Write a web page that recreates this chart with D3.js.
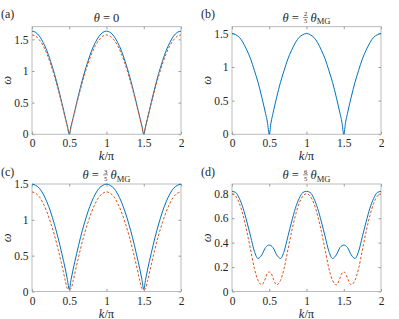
<!DOCTYPE html>
<html>
<head>
<meta charset="utf-8">
<script src="https://cdn.jsdelivr.net/npm/d3@7"></script>
<style>
body{margin:0;background:#fff}
svg{font-family:"Liberation Serif","DejaVu Serif",serif}
svg text{fill:#262626}
</style>
</head>
<body>
<svg width="399" height="319"></svg>
<script>
// k/pi sample points (extra points close to the dips)
var kGrid = [0,0.05,0.1,0.15,0.2,0.25,0.3,0.35,0.4,0.45,0.475,0.5,0.525,0.55,0.6,0.65,0.7,0.75,0.8,0.85,0.9,0.95,1,
             1.05,1.1,1.15,1.2,1.25,1.3,1.35,1.4,1.45,1.475,1.5,1.525,1.55,1.6,1.65,1.7,1.75,1.8,1.85,1.9,1.95,2];

var aBlue = [1.63,1.61,1.55,1.45,1.32,1.15,0.96,0.74,0.50,0.25,0.13,0,0.13,0.25,0.50,0.74,0.96,1.15,1.32,1.45,1.55,1.61,1.63,
             1.61,1.55,1.45,1.32,1.15,0.96,0.74,0.50,0.25,0.13,0,0.13,0.25,0.50,0.74,0.96,1.15,1.32,1.45,1.55,1.61,1.63];
var aOrange = [1.57,1.55,1.49,1.40,1.27,1.11,0.92,0.71,0.48,0.24,0.12,0.01,0.12,0.24,0.48,0.71,0.92,1.11,1.27,1.40,1.49,1.55,1.57,
               1.55,1.49,1.40,1.27,1.11,0.92,0.71,0.48,0.24,0.12,0.01,0.12,0.24,0.48,0.71,0.92,1.11,1.27,1.40,1.49,1.55,1.57];
var bBlue = [1.50,1.48,1.44,1.36,1.25,1.12,0.95,0.77,0.55,0.31,0.18,0,0.18,0.31,0.55,0.77,0.95,1.12,1.25,1.36,1.44,1.48,1.50,
             1.48,1.44,1.36,1.25,1.12,0.95,0.77,0.55,0.31,0.18,0,0.18,0.31,0.55,0.77,0.95,1.12,1.25,1.36,1.44,1.48,1.50];
var cBlue = [1.50,1.48,1.44,1.36,1.25,1.11,0.94,0.75,0.53,0.30,0.17,0.03,0.17,0.30,0.53,0.75,0.94,1.11,1.25,1.36,1.44,1.48,1.50,
             1.48,1.44,1.36,1.25,1.11,0.94,0.75,0.53,0.30,0.17,0.03,0.17,0.30,0.53,0.75,0.94,1.11,1.25,1.36,1.44,1.48,1.50];
var cOrange = [1.39,1.37,1.32,1.23,1.11,0.96,0.79,0.59,0.37,0.14,0.04,0.03,0.04,0.14,0.37,0.59,0.79,0.96,1.11,1.23,1.32,1.37,1.39,
               1.37,1.32,1.23,1.11,0.96,0.79,0.59,0.37,0.14,0.04,0.03,0.04,0.14,0.37,0.59,0.79,0.96,1.11,1.23,1.32,1.37,1.39];
var dBlue = [0.82,0.81,0.76,0.68,0.57,0.45,0.33,0.27,0.30,0.36,0.375,0.38,0.375,0.36,0.30,0.27,0.33,0.45,0.57,0.68,0.76,0.81,0.82,
             0.81,0.76,0.68,0.57,0.45,0.33,0.27,0.30,0.36,0.375,0.38,0.375,0.36,0.30,0.27,0.33,0.45,0.57,0.68,0.76,0.81,0.82];
var dOrange = [0.80,0.78,0.72,0.62,0.49,0.34,0.19,0.09,0.055,0.11,0.15,0.16,0.15,0.11,0.055,0.09,0.19,0.34,0.49,0.62,0.72,0.78,0.80,
               0.78,0.72,0.62,0.49,0.34,0.19,0.09,0.055,0.11,0.15,0.16,0.15,0.11,0.055,0.09,0.19,0.34,0.49,0.62,0.72,0.78,0.80];

var xTicks = [0,0.5,1,1.5,2];
var yTicks = [0,0.5,1,1.5];
var yTicksD = [0,0.2,0.4,0.6,0.8];

var blue = "#0072BD", orange = "#D95319";
var serif = "Liberation Serif";

var panels = [
  {label:"(a)", frac:null,  x0:32,  y0:26.7, yMax:1.7,  ticks:yTicks,  series:[aBlue, aOrange]},
  {label:"(b)", frac:["2","5"], x0:232, y0:26.7, yMax:1.6, ticks:yTicks, series:[bBlue]},
  {label:"(c)", frac:["3","5"], x0:32,  y0:184, yMax:1.5, ticks:yTicks, series:[cBlue, cOrange]},
  {label:"(d)", frac:["6","5"], x0:232, y0:184, yMax:0.88, ticks:yTicksD, series:[dBlue, dOrange]}
];

var svg = d3.select("svg");
var w = 149, h = 107.5;

function title(g, cx, base, frac) {
  var t = g.append("g");
  var t1 = t.append("text").attr("x", 0).attr("y", base).attr("font-size", 12.5);
  t1.append("tspan").attr("font-style", "italic").text("θ");
  t1.append("tspan").text(frac ? "\u00a0=\u00a0" : "\u00a0=\u00a00");
  var x = t1.node().getComputedTextLength();
  if (frac) {
    var fw = 5;
    x += 1;
    t.append("text").attr("x", x + fw/2).attr("y", base - 5.5).attr("font-size", 6.5)
      .attr("text-anchor", "middle").text(frac[0]);
    t.append("text").attr("x", x + fw/2).attr("y", base + 1.5).attr("font-size", 6.5)
      .attr("text-anchor", "middle").text(frac[1]);
    t.append("line").attr("x1", x).attr("x2", x + fw).attr("y1", base - 4.2).attr("y2", base - 4.2)
      .attr("stroke", "#262626").attr("stroke-width", 0.5);
    x += fw + 2.5;
    var t2 = t.append("text").attr("x", x).attr("y", base).attr("font-size", 12.5);
    t2.append("tspan").attr("font-style", "italic").text("θ");
    t2.append("tspan").attr("font-size", 8.5).attr("dy", 2.5).text("MG");
    x += t2.node().getComputedTextLength();
  }
  t.attr("transform", "translate(" + (cx - x/2) + ",0)");
}

function styleAxis(a) {
  a.attr("font-family", serif).attr("font-size", 11.5);
  a.select(".domain").remove();
  a.selectAll("line").attr("stroke", "#999");
  a.selectAll("text").attr("fill", "#262626");
}

panels.forEach(function(p) {
  var x = d3.scaleLinear().domain([0, 2]).range([p.x0, p.x0 + w]);
  var y = d3.scaleLinear().domain([0, p.yMax]).range([p.y0 + h, p.y0]);
  var g = svg.append("g").attr("font-family", serif);

  // ticks on all four sides, pointing inward
  g.append("g").attr("transform", "translate(0," + (p.y0 + h) + ")")
    .call(d3.axisBottom(x).tickValues(xTicks).tickSize(-2.5).tickPadding(5).tickFormat(d3.format("")))
    .call(styleAxis);
  g.append("g").attr("transform", "translate(0," + p.y0 + ")")
    .call(d3.axisTop(x).tickValues(xTicks).tickSize(-2.5).tickFormat(""))
    .call(styleAxis);
  g.append("g").attr("transform", "translate(" + p.x0 + ",0)")
    .call(d3.axisLeft(y).tickValues(p.ticks).tickSize(-2.5).tickPadding(3.5).tickFormat(d3.format("")))
    .call(styleAxis);
  g.append("g").attr("transform", "translate(" + (p.x0 + w) + ",0)")
    .call(d3.axisRight(y).tickValues(p.ticks).tickSize(-2.5).tickFormat(""))
    .call(styleAxis);

  g.append("rect").attr("x", p.x0).attr("y", p.y0).attr("width", w).attr("height", h)
    .attr("fill", "none").attr("stroke", "#aaa").attr("stroke-width", 0.8);

  var line = d3.line().x(function(d, i){ return x(kGrid[i]); }).y(function(d){ return y(d); })
    .curve(d3.curveMonotoneX);
  p.series.forEach(function(s, i) {
    g.append("path").datum(s).attr("d", line).attr("fill", "none")
      .attr("stroke", i === 0 ? blue : orange).attr("stroke-width", 1)
      .attr("stroke-dasharray", i === 0 ? null : "2.5,1.8");
  });

  title(g, p.x0 + w/2, p.y0 - 5, p.frac);
  g.append("text").attr("x", p.x0 - 31).attr("y", p.y0 - 8.5).attr("font-size", 12).text(p.label);

  var xl = g.append("text").attr("x", p.x0 + w/2).attr("y", p.y0 + h + 26)
    .attr("text-anchor", "middle").attr("font-size", 12.5);
  xl.append("tspan").attr("font-style", "italic").text("k");
  xl.append("tspan").text("/π");

  g.append("text").attr("transform", "translate(" + (p.x0 - 21) + "," + (p.y0 + h/2) + ") rotate(-90)")
    .attr("text-anchor", "middle").attr("font-size", 12.5).attr("font-style", "italic").text("ω");
});
</script>
</body>
</html>
